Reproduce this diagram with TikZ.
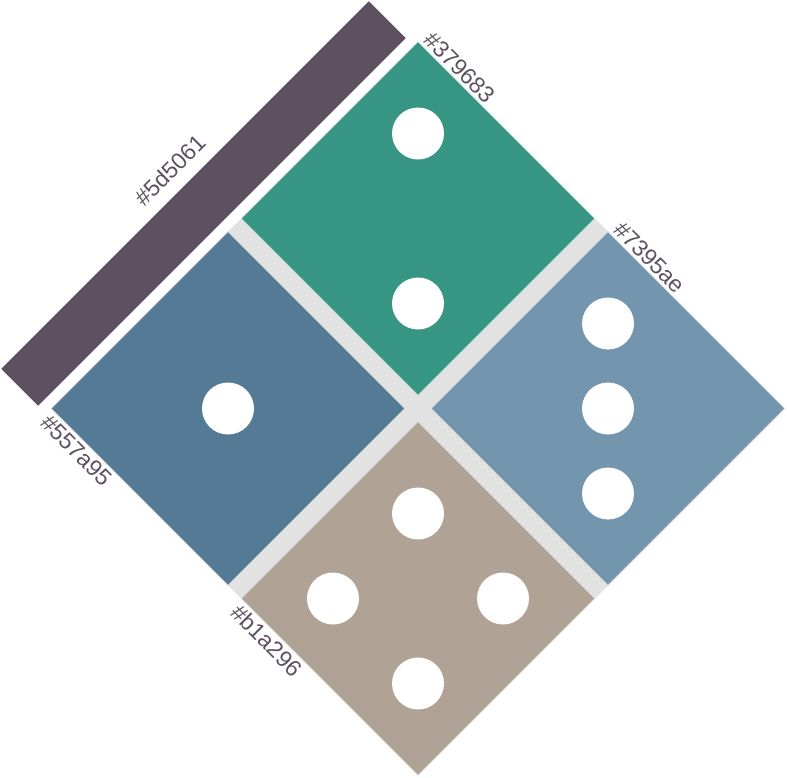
\documentclass[tikz,border=0pt]{standalone}
\usepackage{fontspec}
\setmainfont{Liberation Sans}
\usetikzlibrary{positioning}
\definecolor{gapgray}{HTML}{E2E2E2}
\definecolor{barpurple}{HTML}{5D5061}
\definecolor{facegreen}{HTML}{379683}
\definecolor{faceblue}{HTML}{557A95}
\definecolor{facesky}{HTML}{7395AE}
\definecolor{facesand}{HTML}{B1A296}

\begin{document}
\begin{tikzpicture}[x=1pt,y=-1pt,node distance=190pt,on grid,
    tile/.style={rectangle,rotate=45,minimum size=250pt,inner sep=0pt,draw=gapgray,line width=0.6pt},
    pip/.style={circle,fill=white,minimum size=52pt,inner sep=0pt},
    hexlabel/.style={text=barpurple,font=\fontsize{23}{26}\selectfont,inner sep=3pt}]
   \useasboundingbox (0,0) rectangle (787,777);
   % board and bar
   \node[rectangle,rotate=45,minimum size=519pt,inner sep=0pt,fill=gapgray] (board) at (418,408.5) {};
   \node[rectangle,rotate=45,minimum width=520pt,minimum height=52pt,inner sep=0pt,fill=barpurple] (bar) at (203.5,203.5) {};
   \node[hexlabel,rotate=45,anchor=south,inner ysep=12pt] (lbar) at (bar.north) {\#5d5061};
   % faces
   \node[tile,fill=facegreen] (d2) [above=of board] {};
   \node[tile,fill=faceblue]  (d1) [left=of board] {};
   \node[tile,fill=facesky]   (d3) [right=of board] {};
   \node[tile,fill=facesand]  (d4) [below=of board] {};
   % pips
   \node[pip] (p21) [above=85pt of d2] {};
   \node[pip] (p22) [below=85pt of d2] {};
   \node[pip] (p11) at (d1) {};
   \node[pip] (p31) [above=85pt of d3] {};
   \node[pip] (p32) at (d3) {};
   \node[pip] (p33) [below=85pt of d3] {};
   \node[pip] (p41) [above=85pt of d4] {};
   \node[pip] (p42) [left=85pt of d4] {};
   \node[pip] (p43) [right=85pt of d4] {};
   \node[pip] (p44) [below=85pt of d4] {};
   % names
   \node[hexlabel,rotate=-45,anchor=south west] (l2) at (d2.north east) {\#379683};
   \node[hexlabel,rotate=-45,anchor=south west] (l3) at (d3.north east) {\#7395ae};
   \node[hexlabel,rotate=-45,anchor=north west] (l1) at (d1.north west) {\#557a95};
   \node[hexlabel,rotate=-45,anchor=north west] (l4) at (d4.north west) {\#b1a296};
\end{tikzpicture}
\end{document}
